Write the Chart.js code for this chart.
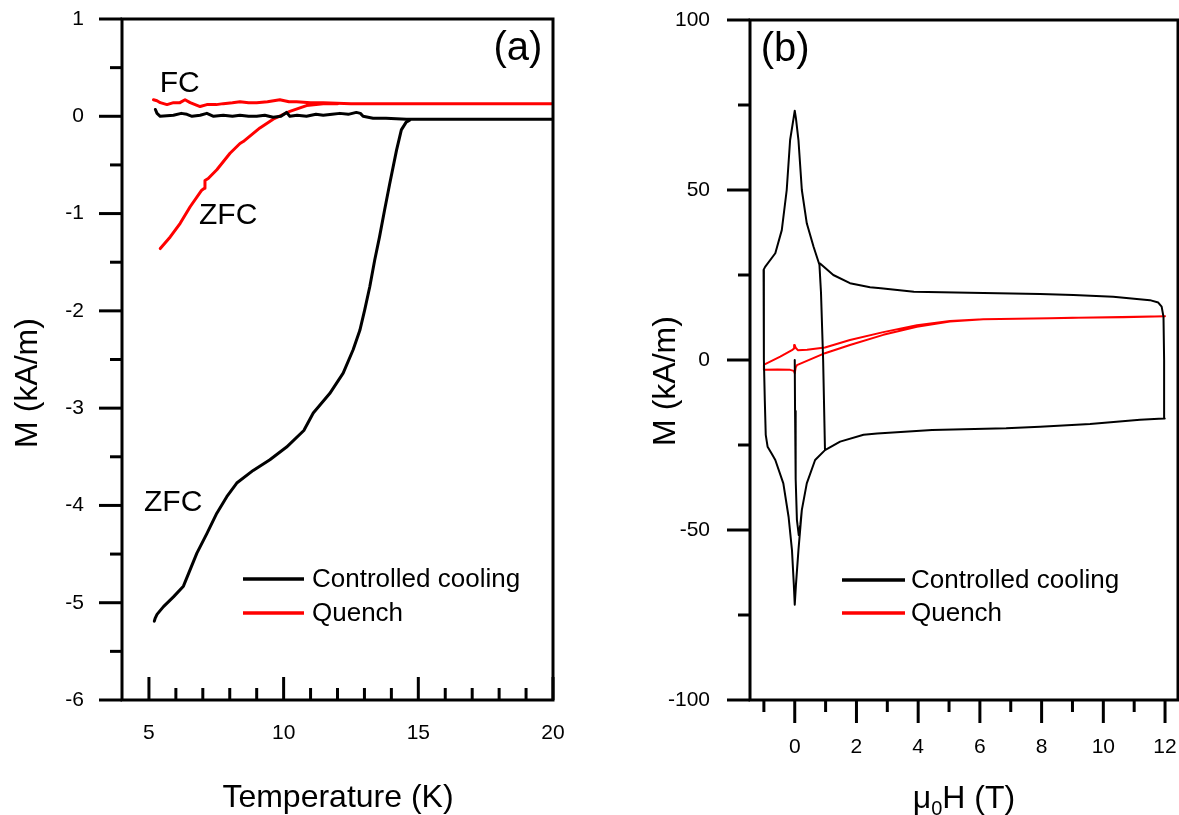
<!DOCTYPE html>
<html><head><meta charset="utf-8">
<script src="https://cdn.jsdelivr.net/npm/chart.js@4.4.1/dist/chart.umd.min.js"></script>
<style>
html,body{margin:0;padding:0;background:#fff;width:1179px;height:815px;overflow:hidden;}
#wa{position:absolute;left:0;top:0;width:600px;height:815px;}
#wb{position:absolute;left:600px;top:0;width:579px;height:815px;}
</style></head><body>
<div id="wa"><canvas id="ca"></canvas></div>
<div id="wb"><canvas id="cb"></canvas></div>
<script>
// ---------- Panel (a): M vs Temperature ----------
const aXTicks = [5, 10, 15, 20];
const aXMinor = [6, 7, 8, 9, 11, 12, 13, 14, 16, 17, 18, 19];
const aYTicks = [-6, -5, -4, -3, -2, -1, 0, 1];
const aYMinor = [-5.5, -4.5, -3.5, -2.5, -1.5, -0.5, 0.5];

const tempCcFc = [5.24, 5.3, 5.42, 5.91, 6.2, 6.41, 6.6, 6.9, 7.15, 7.4, 7.76, 8.1, 8.38, 8.7, 9.0, 9.3, 9.61, 9.9, 10.11, 10.23, 10.5, 10.85, 11.2, 11.47, 11.8, 12.09, 12.4, 12.7, 12.85, 12.95, 13.32, 13.8, 14.56, 20];
const magCcFc  = [0.07, 0.03, 0.0, 0.01, 0.03, 0.02, 0.0, 0.01, 0.03, 0.0, 0.01, 0.0, 0.01, 0.0, 0.0, 0.01, -0.01, 0.0, 0.04, 0.0, 0.01, 0.0, 0.02, 0.01, 0.02, 0.03, 0.02, 0.04, 0.03, 0.0, -0.02, -0.02, -0.03, -0.03];

const tempCcZfc = [5.2, 5.23, 5.3, 5.54, 5.91, 6.28, 6.53, 6.78, 7.15, 7.52, 7.89, 8.26, 8.87, 9.49, 10.11, 10.75, 11.1, 11.71, 12.21, 12.58, 12.83, 13.01, 13.2, 13.38, 13.56, 13.75, 13.94, 14.19, 14.37, 14.55, 14.68];
const magCcZfc  = [-5.19, -5.16, -5.12, -5.04, -4.94, -4.83, -4.66, -4.49, -4.29, -4.08, -3.91, -3.77, -3.64, -3.53, -3.40, -3.23, -3.05, -2.85, -2.64, -2.40, -2.20, -1.99, -1.75, -1.48, -1.24, -0.96, -0.69, -0.35, -0.14, -0.06, -0.04];

const tempQFc = [5.17, 5.3, 5.42, 5.67, 5.91, 6.15, 6.34, 6.53, 6.9, 7.15, 7.5, 7.76, 8.1, 8.38, 8.7, 9.0, 9.4, 9.86, 10.2, 10.48, 11.0, 11.47, 12.5, 20];
const magQFc  = [0.17, 0.16, 0.14, 0.12, 0.14, 0.14, 0.17, 0.14, 0.10, 0.12, 0.12, 0.13, 0.14, 0.15, 0.14, 0.14, 0.15, 0.17, 0.15, 0.15, 0.14, 0.14, 0.13, 0.13];

const tempQZfc = [5.42, 5.79, 6.16, 6.53, 6.96, 7.06, 7.08, 7.2, 7.52, 8.01, 8.38, 8.5, 9.12, 9.61, 10.23, 10.85, 11.47, 12.0];
const magQZfc  = [-1.36, -1.24, -1.10, -0.93, -0.76, -0.74, -0.66, -0.64, -0.55, -0.38, -0.28, -0.26, -0.12, -0.03, 0.05, 0.11, 0.13, 0.13];

// ---------- Panel (b): M vs applied field ----------
const bXTicks = [0, 2, 4, 6, 8, 10, 12];
const bXMinor = [-1, 1, 3, 5, 7, 9, 11];
const bYTicks = [-100, -50, 0, 50, 100];
const bYMinor = [-75, -25, 25, 75];

const fieldCc = [0, 0.01, 0.03, 0.07, 0.13, 0.18, 0.23, 0.39, 0.66, 0.98, 0.92, 0.85, 0.8, 0.61, 0.39, 0.23, 0.12, 0.04, 0, -0.04, -0.15, -0.26, -0.42, -0.63, -0.96, -1.01, -1.0, -0.97, -0.94, -0.88, -0.75, -0.63, -0.37, -0.2, -0.09, -0.03, 0, 0.04, 0.12, 0.23, 0.39, 0.66, 0.98, 1.47, 2.23, 2.67, 4.45, 6.85, 7.95, 9.57, 11.19, 11.8, 11.99, 11.97, 11.95, 11.89, 11.78, 11.51, 10.32, 9.03, 7.95, 5.66, 3.86, 2.79, 2.44, 1.79, 1.25, 0.82];
const magCc   = [0, -15, -35, -47, -51.5, -48.5, -44.1, -36.3, -29.4, -26.5, 0, 20, 28, 33.3, 40.2, 50, 64.7, 71, 73.3, 71, 64.7, 50, 38.2, 31.4, 27.4, 26.5, 0, -12, -22, -25.5, -27.5, -29.4, -36.3, -46.1, -55.9, -66, -72, -66, -55.9, -44.1, -36.3, -29.4, -26.5, -24, -22, -21.6, -20.6, -20.1, -19.6, -18.8, -17.6, -17.3, -17.2, 0, 12.7, 15.7, 16.9, 17.6, 18.6, 19.1, 19.4, 19.8, 20.1, 21.1, 21.4, 22.6, 25, 28.4];

const fieldQ = [12, 10.65, 9.0, 8.27, 6.11, 5.03, 3.96, 2.87, 1.79, 0.98, 0.4, 0.1, 0.03, 0.0, -0.02, -0.09, -0.47, -0.96, -1.0, -1.0, -0.96, -0.56, -0.15, -0.03, 0.0, 0.03, 0.07, 0.98, 1.79, 2.87, 3.96, 5.03, 6.11, 8.27, 12];
const magQ   = [12.9, 12.6, 12.4, 12.26, 12.0, 11.5, 10.2, 8.2, 5.9, 3.7, 3.0, 2.9, 3.6, 4.4, 3.4, 2.9, 1.0, -1.2, -1.5, -2.9, -2.9, -2.8, -2.9, -3.2, -3.9, -2.2, -1.5, 2.0, 4.4, 7.4, 9.8, 11.3, 12.0, 12.3, 12.9];

const seriesNames = ['Controlled cooling', 'Quench'];
const seriesColors = ['#000000', '#ff0000'];

const zip = (xs, ys) => xs.map((x, i) => ({x: x, y: ys[i]}));

Chart.defaults.font.family = "'Liberation Sans', Arial, sans-serif";
Chart.defaults.color = '#000';
Chart.defaults.animation = false;

const deco = {
  id: 'deco',
  afterDraw(chart, args, o) {
    const ctx = chart.ctx, ca = chart.chartArea;
    const sx = chart.scales.x, sy = chart.scales.y;
    const fam = Chart.defaults.font.family;
    ctx.save();
    ctx.strokeStyle = '#000';
    ctx.lineCap = 'butt';
    ctx.lineWidth = 3;
    const tickX = (vals, len) => vals.forEach(v => {
      const p = sx.getPixelForValue(v);
      ctx.beginPath(); ctx.moveTo(p, ca.bottom); ctx.lineTo(p, ca.bottom + o.xDir * len); ctx.stroke();
    });
    const tickY = (vals, len) => vals.forEach(v => {
      const p = sy.getPixelForValue(v);
      ctx.beginPath(); ctx.moveTo(ca.left, p); ctx.lineTo(ca.left - len, p); ctx.stroke();
    });
    tickX(o.xMajor, 23); tickX(o.xMinor, 12);
    tickY(o.yMajor, 23); tickY(o.yMinor, 12);
    // frame
    ctx.lineWidth = 3;
    ctx.strokeRect(ca.left, ca.top, ca.right - ca.left, ca.bottom - ca.top);

    // annotations
    ctx.fillStyle = '#000';
    ctx.textAlign = 'center';
    ctx.textBaseline = 'middle';
    o.notes.forEach(n => {
      ctx.font = n.size + 'px ' + fam;
      ctx.fillText(n.text, sx.getPixelForValue(n.x), sy.getPixelForValue(n.y));
    });

    // legend
    ctx.textAlign = 'left';
    ctx.font = '26px ' + fam;
    seriesNames.forEach((name, i) => {
      const y = o.legend.y + i * o.legend.dy;
      ctx.strokeStyle = seriesColors[i];
      ctx.lineWidth = 3.5;
      ctx.beginPath(); ctx.moveTo(o.legend.x0, y); ctx.lineTo(o.legend.x1, y); ctx.stroke();
      ctx.fillStyle = '#000';
      ctx.fillText(name, o.legend.tx, y + 1);
    });

    // y title (rotated)
    ctx.save();
    ctx.translate(o.yTitle.x, o.yTitle.y);
    ctx.rotate(-Math.PI / 2);
    ctx.font = '32px ' + fam;
    ctx.textAlign = 'center';
    ctx.textBaseline = 'alphabetic';
    ctx.fillText(o.yTitle.text, 0, 0);
    ctx.restore();

    // x title (with optional subscript)
    ctx.textBaseline = 'alphabetic';
    ctx.textAlign = 'left';
    const parts = o.xTitle.parts;
    let total = 0;
    parts.forEach(p => { ctx.font = p.size + 'px ' + fam; p.w = ctx.measureText(p.t).width; total += p.w; });
    let cx = o.xTitle.x - total / 2;
    parts.forEach(p => {
      ctx.font = p.size + 'px ' + fam;
      ctx.fillText(p.t, cx, o.xTitle.y + (p.dy || 0));
      cx += p.w;
    });
    ctx.restore();
  }
};

const hiddenGrid = len => ({display: true, drawOnChartArea: false, drawTicks: true, tickLength: len,
  color: 'rgba(0,0,0,0)', tickColor: 'rgba(0,0,0,0)'});

function makeScales(xmin, xmax, ymin, ymax, xt, yt, yw, xh, xoff, yoff) {
  return {
    x: {
      type: 'linear', min: xmin, max: xmax,
      grid: hiddenGrid(xoff),
      border: {display: false},
      afterBuildTicks: s => { s.ticks = xt.map(v => ({value: v})); },
      afterFit: s => { s.height = xh; },
      ticks: {font: {size: 21}, color: '#000', padding: 0, maxRotation: 0, autoSkip: false}
    },
    y: {
      type: 'linear', min: ymin, max: ymax,
      grid: hiddenGrid(yoff),
      border: {display: false},
      afterBuildTicks: s => { s.ticks = yt.map(v => ({value: v})); },
      afterFit: s => { s.width = yw; },
      ticks: {font: {size: 21}, color: '#000', padding: 0, autoSkip: false}
    }
  };
}

const lineDs = (label, data, color, w) => ({
  label: label, data: data, showLine: true, borderColor: color, backgroundColor: color,
  borderWidth: w, pointRadius: 0, tension: 0, borderJoinStyle: 'round', borderCapStyle: 'round', fill: false
});

new Chart(document.getElementById('ca'), {
  type: 'scatter',
  data: {
    datasets: [
      lineDs(seriesNames[0] + ' FC', zip(tempCcFc, magCcFc), seriesColors[0], 3),
      lineDs(seriesNames[0] + ' ZFC', zip(tempCcZfc, magCcZfc), seriesColors[0], 3),
      lineDs(seriesNames[1] + ' FC', zip(tempQFc, magQFc), seriesColors[1], 3),
      lineDs(seriesNames[1] + ' ZFC', zip(tempQZfc, magQZfc), seriesColors[1], 3)
    ]
  },
  options: {
    responsive: true, maintainAspectRatio: false, devicePixelRatio: 1,
    layout: {padding: {left: 0, top: 19, right: 47, bottom: 0}},
    scales: makeScales(4, 20, -6, 1, aXTicks, aYTicks, 122, 115, 21, 38),
    plugins: {
      legend: {display: false}, tooltip: {enabled: false},
      deco: {
        xDir: -1, xMajor: aXTicks, xMinor: aXMinor, yMajor: aYTicks, yMinor: aYMinor,
        notes: [
          {text: 'FC', x: 6.14, y: 0.33, size: 30},
          {text: 'ZFC', x: 7.94, y: -1.02, size: 30},
          {text: 'ZFC', x: 5.9, y: -3.97, size: 30},
          {text: '(a)', x: 18.7, y: 0.69, size: 40}
        ],
        legend: {x0: 243, x1: 304, tx: 312, y: 579, dy: 34},
        yTitle: {text: 'M (kA/m)', x: 37, y: 383},
        xTitle: {x: 338, y: 807, parts: [{t: 'Temperature (K)', size: 32}]}
      }
    }
  },
  plugins: [deco]
});

new Chart(document.getElementById('cb'), {
  type: 'scatter',
  data: {
    datasets: [
      lineDs(seriesNames[0], zip(fieldCc, magCc), seriesColors[0], 2),
      lineDs(seriesNames[1], zip(fieldQ, magQ), seriesColors[1], 2)
    ]
  },
  options: {
    responsive: true, maintainAspectRatio: false, devicePixelRatio: 1,
    layout: {padding: {left: 0, top: 20, right: 1, bottom: 0}},
    scales: makeScales(-1.45, 12.42, -100, 100, bXTicks, bYTicks, 150, 115, 35, 40),
    plugins: {
      legend: {display: false}, tooltip: {enabled: false},
      deco: {
        xDir: 1, xMajor: bXTicks, xMinor: bXMinor, yMajor: bYTicks, yMinor: bYMinor,
        notes: [
          {text: '(b)', x: -0.31, y: 91.2, size: 40}
        ],
        legend: {x0: 242, x1: 305, tx: 311, y: 580, dy: 33},
        yTitle: {text: 'M (kA/m)', x: 75, y: 381},
        xTitle: {x: 364, y: 808, parts: [{t: '\u03bc', size: 32}, {t: '0', size: 20, dy: 7}, {t: 'H (T)', size: 32}]}
      }
    }
  },
  plugins: [deco]
});
</script>
</body></html>
